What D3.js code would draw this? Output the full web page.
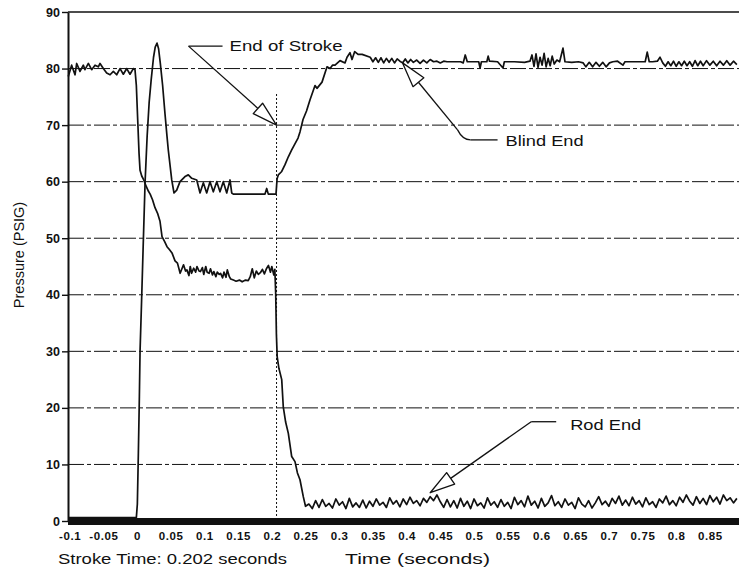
<html>
<head>
	<meta charset="utf-8">
	<script src="https://cdn.jsdelivr.net/npm/d3@7"></script>
	<style>
		body { margin: 0; background: #fff; }
		svg { display: block; font-family: 'Liberation Sans', Arial, Helvetica, sans-serif; }
	</style>
</head>
<body>
	<svg id="chart" width="739" height="571"></svg>
	<script>
		// ---- values ----
		var yTicks = [0, 10, 20, 30, 40, 50, 60, 70, 80, 90];
		var xTicks = [-0.1, -0.05, 0, 0.05, 0.1, 0.15, 0.2, 0.25, 0.3, 0.35, 0.4, 0.45, 0.5, 0.55, 0.6, 0.65, 0.7, 0.75, 0.8, 0.85];
		var xTickLabels = ['-0.1', '-0.05', '0', '0.05', '0.1', '0.15', '0.2', '0.25', '0.3', '0.35', '0.4', '0.45', '0.5', '0.55', '0.6', '0.65', '0.7', '0.75', '0.8', '0.85'];
		var strokeEnd = 0.207;
		var strokeTimeText = 'Stroke Time: 0.202 seconds';

		// [time (s), pressure (psig)]
		var blindEnd = [
			[-0.102, 0.6], [-0.001, 0.6], [0.0005, 3], [0.002, 12], [0.0035, 22], [0.0045, 30], [0.0068, 39],
			[0.009, 48], [0.012, 60], [0.015, 68], [0.018, 74], [0.021, 78], [0.0245, 82], [0.027, 83.8],
			[0.0297, 84.5], [0.032, 83.5], [0.0345, 81], [0.038, 77], [0.0415, 72], [0.0445, 68], [0.0464, 65.6],
			[0.0515, 60.3], [0.0549, 58.0], [0.0589, 58.5], [0.0638, 60.0], [0.0712, 60.9], [0.0761, 61.2],
			[0.0812, 60.6], [0.0886, 60.3], [0.0935, 58.0], [0.0984, 59.8], [0.1034, 58.0], [0.1083, 60.0],
			[0.1132, 58.2], [0.1183, 60.0], [0.1231, 58.2], [0.128, 60.0], [0.1331, 58.0], [0.138, 60.3],
			[0.1405, 58.0], [0.1429, 57.8], [0.1899, 57.8], [0.1924, 58.8], [0.1948, 57.8], [0.2062, 57.8],
			[0.2078, 60.5], [0.2096, 61.2], [0.2147, 61.8], [0.2196, 63.0], [0.2245, 64.4], [0.2295, 65.6],
			[0.2325, 66.3], [0.2389, 67.7], [0.2418, 68.8], [0.2463, 71.0], [0.2515, 72.5], [0.2567, 74.5],
			[0.2641, 77.0], [0.267, 76.5], [0.2745, 77.6], [0.2819, 80.3], [0.2864, 80.0], [0.29, 80.6],
			[0.2938, 80.6], [0.3012, 81.4], [0.3086, 81.0], [0.3116, 82.0], [0.316, 82.8], [0.319, 81.6],
			[0.323, 83.0], [0.328, 82.5], [0.334, 82.5], [0.346, 82.0], [0.35, 81.2], [0.354, 81.9],
			[0.358, 81.1], [0.362, 81.9], [0.366, 81.0], [0.37, 81.8], [0.374, 81.1], [0.378, 81.8],
			[0.382, 81.0], [0.386, 81.7], [0.39, 81.3], [0.394, 81.0], [0.398, 81.7], [0.402, 81.0],
			[0.406, 81.6], [0.41, 81.1], [0.415, 81.5], [0.42, 80.9], [0.425, 81.5], [0.43, 81.0],
			[0.435, 81.6], [0.44, 81.2], [0.445, 81.3], [0.45, 81.0], [0.455, 81.3], [0.46, 81.2],
			[0.47, 81.2], [0.48, 81.2], [0.484, 81.0], [0.487, 82.4], [0.49, 81.2], [0.5, 81.2],
			[0.507, 81.2], [0.509, 80.1], [0.511, 81.2], [0.519, 81.2], [0.521, 82.2], [0.523, 81.3],
			[0.535, 81.2], [0.543, 80.1], [0.545, 81.2], [0.56, 81.2], [0.575, 81.1], [0.583, 81.3],
			[0.586, 82.4], [0.589, 80.4], [0.592, 82.6], [0.595, 80.2], [0.598, 82.0], [0.601, 80.6],
			[0.604, 82.7], [0.607, 80.3], [0.61, 81.8], [0.613, 80.5], [0.616, 82.2], [0.619, 80.8],
			[0.623, 81.5], [0.627, 81.2], [0.632, 83.6], [0.635, 81.2], [0.645, 81.1], [0.655, 81.2],
			[0.662, 81.0], [0.666, 80.3], [0.671, 81.1], [0.676, 80.3], [0.681, 81.1], [0.686, 80.4],
			[0.691, 81.1], [0.696, 80.3], [0.701, 81.0], [0.706, 81.2], [0.713, 81.3], [0.721, 80.6],
			[0.724, 81.2], [0.735, 81.2], [0.745, 81.2], [0.754, 81.2], [0.757, 82.9], [0.76, 81.2],
			[0.765, 81.2], [0.772, 81.3], [0.776, 82.0], [0.78, 81.0], [0.784, 80.4], [0.788, 81.2],
			[0.792, 80.5], [0.796, 81.3], [0.8, 80.4], [0.804, 81.2], [0.808, 80.5], [0.812, 81.3],
			[0.816, 80.5], [0.82, 81.2], [0.824, 80.4], [0.828, 81.4], [0.832, 80.5], [0.836, 81.3],
			[0.84, 80.5], [0.845, 81.4], [0.85, 80.6], [0.855, 81.3], [0.86, 80.5], [0.865, 81.3],
			[0.87, 80.6], [0.875, 81.4], [0.88, 80.6], [0.885, 81.3], [0.89, 80.7]
		];

		var rodEnd = [
			[-0.102, 78.6], [-0.097, 80.6], [-0.092, 78.9], [-0.0895, 80.9], [-0.0846, 79.5], [-0.0797, 80.6],
			[-0.0772, 79.8], [-0.0722, 80.9], [-0.0673, 79.8], [-0.0623, 80.6], [-0.0574, 80.3], [-0.0549, 80.9],
			[-0.05, 80.0], [-0.045, 79.2], [-0.04, 78.9], [-0.0351, 79.5], [-0.0302, 78.9], [-0.0252, 80.0],
			[-0.0203, 79.0], [-0.0153, 80.0], [-0.0104, 79.0], [-0.0055, 80.0], [-0.003, 79.8],
			[-0.001, 77], [0.001, 71], [0.003, 65], [0.0045, 62], [0.007, 61], [0.01, 60.3], [0.0135, 59.2],
			[0.017, 58.3], [0.0195, 57.8], [0.023, 56.8], [0.0267, 55.4], [0.0305, 54.4], [0.0341, 53],
			[0.0371, 50.3], [0.041, 49.4], [0.0445, 48.5], [0.048, 48.0], [0.0519, 47.4], [0.0564, 46],
			[0.06, 45.6], [0.064, 43.8], [0.069, 45.3], [0.072, 44.2], [0.074, 44.4], [0.077, 43.4],
			[0.079, 45], [0.081, 43.8], [0.084, 44.7], [0.087, 44], [0.089, 45], [0.092, 44.2], [0.094, 44.1],
			[0.097, 44.8], [0.099, 43.6], [0.102, 45], [0.104, 44], [0.107, 43.8], [0.109, 44.6], [0.112, 43.5],
			[0.114, 44.1], [0.117, 43.2], [0.119, 44], [0.122, 43.6], [0.124, 43.8], [0.127, 43], [0.129, 44],
			[0.132, 43.1], [0.134, 44.4], [0.137, 43.2], [0.139, 42.8], [0.143, 42.6], [0.147, 42.4],
			[0.152, 42.6], [0.156, 42.3], [0.161, 42.6], [0.165, 42.5], [0.168, 43.2], [0.171, 44.6],
			[0.174, 43], [0.177, 44.2], [0.18, 43.6], [0.183, 43.9], [0.186, 44.5], [0.189, 43.7],
			[0.192, 44.6], [0.195, 45.2], [0.198, 44], [0.2, 45], [0.203, 43.5], [0.2045, 44.5], [0.2058, 40],
			[0.2068, 33], [0.208, 29], [0.2105, 27], [0.2147, 25], [0.217, 20.2], [0.2205, 17.5],
			[0.2245, 15.5], [0.2295, 11.4], [0.2344, 10.5], [0.238, 8.5], [0.2418, 7.3], [0.2467, 4.3],
			[0.25, 2.6], [0.255, 3.0], [0.26, 2.2], [0.265, 3.6], [0.27, 2.4], [0.275, 3.8], [0.28, 2.6],
			[0.285, 3.1], [0.29, 2.3], [0.295, 3.9], [0.3, 2.8], [0.305, 3.4], [0.31, 2.2], [0.315, 4.0],
			[0.32, 2.5], [0.325, 3.2], [0.33, 2.4], [0.335, 3.7], [0.34, 2.3], [0.345, 3.5], [0.35, 2.6],
			[0.355, 3.9], [0.36, 2.8], [0.365, 3.3], [0.37, 2.4], [0.375, 4.1], [0.38, 3.0], [0.385, 3.6],
			[0.39, 2.5], [0.395, 3.9], [0.4, 2.9], [0.405, 4.2], [0.41, 3.1], [0.415, 3.6], [0.42, 2.7],
			[0.425, 4.0], [0.43, 3.3], [0.435, 4.3], [0.44, 3.6], [0.445, 4.6], [0.45, 3.4], [0.455, 2.4],
			[0.46, 3.8], [0.465, 2.5], [0.47, 3.6], [0.475, 2.3], [0.48, 4.0], [0.485, 2.6], [0.49, 3.5],
			[0.495, 2.2], [0.5, 3.9], [0.505, 2.7], [0.51, 3.2], [0.515, 2.3], [0.52, 4.1], [0.525, 2.8],
			[0.53, 3.4], [0.535, 2.4], [0.54, 3.8], [0.545, 2.6], [0.55, 3.3], [0.555, 2.2], [0.56, 4.2],
			[0.565, 2.9], [0.57, 3.6], [0.575, 2.5], [0.58, 4.4], [0.585, 2.8], [0.59, 3.5], [0.595, 2.3],
			[0.6, 4.0], [0.605, 2.6], [0.61, 3.2], [0.615, 4.5], [0.62, 2.7], [0.625, 3.4], [0.63, 2.4],
			[0.635, 3.9], [0.64, 2.8], [0.645, 3.3], [0.65, 2.2], [0.655, 4.1], [0.66, 3.0], [0.665, 2.5],
			[0.67, 3.6], [0.675, 2.3], [0.68, 3.2], [0.685, 4.3], [0.69, 2.9], [0.695, 3.5], [0.7, 2.6],
			[0.705, 4.0], [0.71, 3.1], [0.715, 4.4], [0.72, 2.8], [0.725, 3.7], [0.73, 2.7], [0.735, 4.2],
			[0.74, 3.0], [0.745, 3.6], [0.75, 2.5], [0.755, 4.1], [0.76, 2.9], [0.765, 3.4], [0.77, 2.4],
			[0.775, 3.9], [0.78, 3.2], [0.785, 4.4], [0.79, 2.9], [0.795, 3.6], [0.8, 2.7], [0.805, 4.2],
			[0.81, 3.3], [0.815, 4.6], [0.82, 3.5], [0.825, 2.8], [0.83, 4.3], [0.835, 3.1], [0.84, 4.0],
			[0.845, 2.9], [0.85, 4.5], [0.855, 3.4], [0.86, 4.2], [0.865, 3.0], [0.87, 4.6], [0.875, 3.6],
			[0.88, 4.1], [0.885, 3.2], [0.89, 4.0]
		];

		// ---- layout ----
		var W = 739, H = 571;
		var x = d3.scaleLinear().domain([-0.1024, 0.8902]).range([68, 737]);
		var y = d3.scaleLinear().domain([0, 90]).range([521, 12]);

		var svg = d3.select('#chart');
		var ink = '#111';

		// gridlines (dash-dot like the scan), top one solid
		svg.append('g')
			.selectAll('line')
			.data(yTicks.filter(function(d){ return d > 0; }))
			.enter()
			.append('line')
			.attr('x1', x.range()[0])
			.attr('x2', W)
			.attr('y1', function(d){ return y(d); })
			.attr('y2', function(d){ return y(d); })
			.attr('stroke', ink)
			.attr('stroke-width', function(d){ return d === 90 ? 1.6 : 1; })
			.attr('stroke-dasharray', function(d){ return d === 90 ? null : '16,3,4,3'; });

		// y axis
		var yAxis = svg.append('g')
			.attr('transform', 'translate(' + x.range()[0] + ',0)')
			.call(d3.axisLeft(y).tickValues(yTicks).tickSize(6).tickSizeOuter(0).tickPadding(2));
		yAxis.select('.domain').attr('stroke', ink).attr('stroke-width', 2);
		yAxis.selectAll('.tick line').attr('stroke', ink).attr('stroke-width', 1.4);
		yAxis.selectAll('.tick text')
			.attr('fill', ink)
			.attr('font-size', 12.5)
			.attr('font-weight', 'bold')
			.attr('font-family', "'Liberation Sans', Arial, sans-serif");

		// x axis labels, no ticks
		var xAxis = svg.append('g')
			.attr('transform', 'translate(0,' + y(0) + ')')
			.call(d3.axisBottom(x).tickValues(xTicks).tickSize(0).tickPadding(11)
				.tickFormat(function(d, i){ return xTickLabels[i]; }));
		xAxis.select('.domain').remove();
		xAxis.selectAll('.tick text')
			.attr('fill', ink)
			.attr('font-size', 11.5)
			.attr('font-weight', 'bold')
			.attr('letter-spacing', 0.6)
			.attr('font-family', "'Liberation Sans', Arial, sans-serif");

		// end-of-stroke marker
		svg.append('line')
			.attr('x1', x(strokeEnd)).attr('x2', x(strokeEnd))
			.attr('y1', y(75.5)).attr('y2', y(0))
			.attr('stroke', ink)
			.attr('stroke-width', 1)
			.attr('stroke-dasharray', '2,2');

		// thick zero bar
		svg.append('line')
			.attr('x1', x.range()[0]).attr('x2', W)
			.attr('y1', y(0) + 0.5).attr('y2', y(0) + 0.5)
			.attr('stroke', ink)
			.attr('stroke-width', 7);

		var line = d3.line()
			.x(function(d){ return x(d[0]); })
			.y(function(d){ return y(d[1]); });

		svg.append('path')
			.datum(blindEnd)
			.attr('d', line)
			.attr('fill', 'none')
			.attr('stroke', ink)
			.attr('stroke-width', 1.7)
			.attr('stroke-linejoin', 'round');

		svg.append('path')
			.datum(rodEnd)
			.attr('d', line)
			.attr('fill', 'none')
			.attr('stroke', ink)
			.attr('stroke-width', 1.7)
			.attr('stroke-linejoin', 'round');

		// ---- call-outs: tip sits on the data, rest offset in px ----
		var notes = [
			{ text: 'End of Stroke', t: strokeEnd, p: 70, ox: -88, oy: -79, hx: 34, tx: 41, ty: 5, tl: 113, bend: false },
			{ text: 'Blind End', t: 0.394, p: 81, ox: 68, oy: 77, hx: 27, tx: 35, ty: 6, tl: 78, bend: true },
			{ text: 'Rod End', t: 0.435, p: 5, ox: 101, oy: -71, hx: 25, tx: 39, ty: 8, tl: 71, bend: false }
		];

		notes.forEach(function(n){
			var tipX = x(n.t), tipY = y(n.p);
			var oX = tipX + n.ox, oY = tipY + n.oy;
			var g = svg.append('g');

			var sx = oX, sy = oY;
			if (n.bend) {
				// little rounded corner where the leader turns
				sx = oX - 13; sy = oY - 10;
				g.append('path')
					.attr('d', 'M' + oX + ',' + oY + ' Q' + (oX - 8) + ',' + oY + ' ' + sx + ',' + sy)
					.attr('fill', 'none').attr('stroke', ink).attr('stroke-width', 1.3);
			}

			var dx = tipX - sx, dy = tipY - sy, len = Math.sqrt(dx * dx + dy * dy);
			var ux = dx / len, uy = dy / len;
			var headL = 25, headW = 7;
			var bx = tipX - ux * headL, by = tipY - uy * headL;

			g.append('line')
				.attr('x1', sx).attr('y1', sy).attr('x2', bx).attr('y2', by)
				.attr('stroke', ink).attr('stroke-width', 1.3);

			g.append('polygon')
				.attr('points', [
					[tipX, tipY],
					[bx - uy * headW, by + ux * headW],
					[bx + uy * headW, by - ux * headW]
				].map(function(p){ return p.join(','); }).join(' '))
				.attr('fill', '#fff')
				.attr('stroke', ink)
				.attr('stroke-width', 1.3)
				.attr('stroke-linejoin', 'round');

			g.append('line')
				.attr('x1', oX).attr('y1', oY).attr('x2', oX + n.hx).attr('y2', oY)
				.attr('stroke', ink).attr('stroke-width', 1.3);

			g.append('text')
				.attr('x', oX + n.tx)
				.attr('y', oY + n.ty)
				.attr('font-size', 15)
				.attr('fill', ink)
				.attr('textLength', n.tl)
				.attr('lengthAdjust', 'spacingAndGlyphs')
				.text(n.text);
		});

		// ---- titles ----
		svg.append('text')
			.attr('transform', 'translate(24,255) rotate(-90)')
			.attr('text-anchor', 'middle')
			.attr('font-size', 14.5)
			.attr('fill', ink)
			.text('Pressure (PSIG)');

		svg.append('text')
			.attr('x', 58).attr('y', 564)
			.attr('font-size', 15.5)
			.attr('fill', ink)
			.attr('textLength', 229)
			.attr('lengthAdjust', 'spacingAndGlyphs')
			.text(strokeTimeText);

		svg.append('text')
			.attr('x', 345).attr('y', 564)
			.attr('font-size', 15.5)
			.attr('fill', ink)
			.attr('textLength', 145)
			.attr('lengthAdjust', 'spacingAndGlyphs')
			.text('Time (seconds)');
	</script>
</body>
</html>
